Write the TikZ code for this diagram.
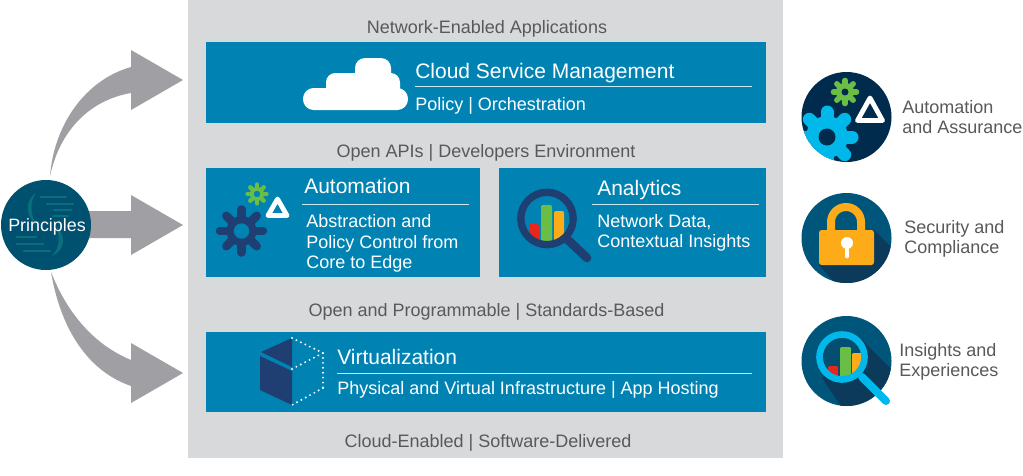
\documentclass[tikz,border=0pt]{standalone}
\usepackage{fontspec}
\setmainfont{Liberation Sans}
\definecolor{panel}{HTML}{D8D9DA}
\definecolor{boxblue}{HTML}{0083B3}
\definecolor{arrowgray}{HTML}{A0A0A4}
\definecolor{labelgray}{HTML}{58595B}
\definecolor{tealdark}{HTML}{00506F}
\definecolor{tealline}{HTML}{0B6E7C}
\definecolor{navy}{HTML}{1F3F73}
\definecolor{deepnavy}{HTML}{002B4C}
\definecolor{midteal}{HTML}{00567A}
\definecolor{shadowtone}{HTML}{0C3A5B}
\definecolor{sky}{HTML}{00B8EA}
\definecolor{leaf}{HTML}{6ABD45}
\definecolor{amber}{HTML}{FDAB18}
\definecolor{barred}{HTML}{E8261C}
\newcommand{\fs}[1]{\fontsize{#1}{#1}\selectfont}
\newcommand{\gearicon}[8]{% x y spokeR spokeW hubR holeR colour holecolour
  \begin{scope}[shift={(#1,#2)}]
    \foreach \a in {0,45,...,315}
      \draw[#7,line width=#4*0.75pt,line cap=round] (0,0) -- (\a:#3);
    \fill[#7] (0,0) circle (#5);
    \fill[#8] (0,0) circle (#6);
  \end{scope}}
\tikzset{
  x=0.75pt,y=-0.75pt,
  head/.style={anchor=base west,text=white,inner sep=0pt,font=\fs{15.75pt}},
  body/.style={anchor=base west,text=white,inner sep=0pt,font=\fs{13.5pt}},
  band/.style={anchor=base,text=labelgray,inner sep=0pt,font=\fs{13.5pt}},
  side/.style={anchor=base west,text=labelgray,inner sep=0pt,font=\fs{13.5pt}},
  rule/.style={draw=white!80!boxblue,line width=0.75pt},
  bigarrow/.style={fill=arrowgray,draw=none},
  cell/.style={fill=boxblue,draw=none},
  dots/.style={draw=white,line width=1.6pt,line cap=round,dash pattern=on 0pt off 3.7pt},
}
\begin{document}
\begin{tikzpicture}
\useasboundingbox (0,0) rectangle (1023,475);
\fill[white] (0,0) rectangle (1023,475);
% panel and cells
\fill[panel] (188,0) rectangle (783,458);
\fill[cell] (206,42) rectangle (766,123);
\fill[cell] (206,168) rectangle (480,277);
\fill[cell] (499,168) rectangle (766,277);
\fill[cell] (206,332) rectangle (766,412);
% band labels
\node[band] (lnet) at (487,33) {Network-Enabled Applications};
\node[band] (lapi) at (486,157) {Open APIs | Developers Environment};
\node[band] (lopen) at (486.5,316) {Open and Programmable | Standards-Based};
\node[band] (lcloud) at (488,447) {Cloud-Enabled | Software-Delivered};
% arrows
\fill[bigarrow] (50,176) .. controls (54,125) and (85,80) .. (131,67) -- (131,50) -- (183,80) -- (131,110) -- (131,93) .. controls (90,100) and (60,130) .. (50,176) -- cycle;
\fill[bigarrow] (85,211) -- (131,211) -- (131,195) -- (183,225) -- (131,255) -- (131,238) -- (85,238) -- cycle;
\fill[bigarrow] (51,272) .. controls (68,315) and (95,345) .. (131,360) -- (131,343) -- (183,373) -- (131,403) -- (131,386) .. controls (85,370) and (60,325) .. (51,272) -- cycle;
% principles
\fill[tealdark] (46,225) circle (45);
\begin{scope}
  \foreach \xa/\xb/\yy in {41/66/197,47/73/204,54/71/210,53/68/216,17/36/237,17/43/244,24/50/251}
    \draw[tealline,line width=1.9pt,line cap=round] (\xa,\yy) -- (\xb,\yy);
  \fill[tealline] (36,193) .. controls (25,200) and (25,215) .. (36,225) .. controls (31,215) and (29,203) .. (36,193) -- cycle;
  \fill[tealline] (52,256) .. controls (66,250) and (66,235) .. (56,226) .. controls (60,236) and (60,248) .. (52,256) -- cycle;
\end{scope}
\node[anchor=base,text=white,inner sep=0pt,font=\fs{13.4pt}] (princ) at (47,231) {Principles};
% cloud
\fill[white,rounded corners=8pt] (303,88) rectangle (408,110);
\fill[white,rounded corners=7pt] (326,73) rectangle (400,100);
\fill[white,rounded corners=7.5pt] (355,58) rectangle (391,85);
% top cell
\node[head] (tcloud) at (415,78) {Cloud Service Management};
\draw[rule] (415,86) -- (752,86);
\node[body] (tpol) at (415,110) {Policy | Orchestration};
% automation cell
\gearicon{241.5}{231}{21.5}{8.5}{15}{7.7}{navy}{boxblue}
\gearicon{257}{194}{9.5}{4.4}{7}{3.2}{leaf}{boxblue}
\draw[white,line width=3.6pt,line join=round] (277.5,199) -- (268,215.5) -- (287,215.5) -- cycle;
\node[head] (tauto) at (304,193) {Automation};
\draw[rule] (302,204) -- (469,204);
\node[body] (ta1) at (306,227) {Abstraction and};
\node[body] (ta2) at (306,248) {Policy Control from};
\node[body] (ta3) at (306,268) {Core to Edge};
% analytics cell
\begin{scope}
  \clip (547,218.5) circle (24);
  \fill[barred,rounded corners=1] (529,224) rectangle (539,245);
  \fill[leaf,rounded corners=1] (541,205) rectangle (552,241);
  \fill[amber,rounded corners=1] (554,211) rectangle (564,245);
\end{scope}
\draw[navy,line width=5.5pt] (547,218.5) circle (26.2);
\draw[navy,line width=6.5pt,line cap=round] (567,239) -- (587,258);
\node[head] (tana) at (597,195) {Analytics};
\draw[rule] (592,204) -- (759,204);
\node[body] (tn1) at (597,227) {Network Data,};
\node[body] (tn2) at (597,247) {Contextual Insights};
% cube
\fill[navy] (260,356) -- (292,371) -- (292,405) -- (260,390) -- cycle;
\fill[navy] (292,338) -- (292,367) -- (261,352) -- cycle;
\draw[dots] (292,338) -- (323,353);
\draw[dots] (292,369) -- (323,353);
\draw[dots] (323,353) -- (323,388);
\draw[dots] (323,388) -- (292,405);
\node[head] (tvirt) at (337,364) {Virtualization};
\draw[rule] (337,373) -- (752,373);
\node[body] (tphys) at (337,394) {Physical and Virtual Infrastructure | App Hosting};
% right icon 1
\fill[deepnavy] (846.5,117) circle (45);
\begin{scope}
  \clip (846.5,117) circle (45);
  \gearicon{827}{137}{25}{13}{21}{8.5}{sky}{deepnavy}
\end{scope}
\gearicon{845}{92}{11.5}{5.6}{9}{3.5}{leaf}{deepnavy}
\draw[white,line width=3.6pt,line join=round] (870,98) -- (857.5,120.5) -- (882.5,120.5) -- cycle;
\node[side] (r1a) at (902,113) {Automation};
\node[side] (r1b) at (902,133) {and Assurance};
% right icon 2
\fill[midteal] (846.5,238) circle (45);
\begin{scope}
  \clip (846.5,238) circle (45);
  \fill[shadowtone] (874,230) -- (900,256) -- (900,300) -- (850,300) -- (819,265) -- cycle;
\end{scope}
\draw[amber,line width=6pt] (831,232) -- (831,222) arc (180:360:15) -- (861,232);
\fill[amber,rounded corners=2] (819,230) rectangle (874,265);
\fill[white] (847,243) circle (6);
\draw[white,line width=3.6pt,line cap=round] (847,243) -- (847,256);
\node[side] (r2a) at (904,233) {Security and};
\node[side] (r2b) at (904,253) {Compliance};
% right icon 3
\fill[midteal] (846.5,361) circle (45);
\begin{scope}
  \clip (846.5,361) circle (45);
  \fill[shadowtone] (860,338) -- (900,378) -- (900,420) -- (850,420) -- (822,378) -- cycle;
\end{scope}
\fill[midteal!70!shadowtone] (842,357) circle (23);
\begin{scope}
  \clip (842,357) circle (22);
  \fill[barred,rounded corners=1] (828,366) rectangle (838,385);
  \fill[leaf,rounded corners=1] (840,347) rectangle (851,385);
  \fill[amber,rounded corners=1] (852,353) rectangle (863,385);
\end{scope}
\draw[sky,line width=5pt] (842,357) circle (22.5);
\draw[sky,line width=6pt,line cap=round] (862,377) -- (886,401);
\node[side] (r3a) at (899,356) {Insights and};
\node[side] (r3b) at (899,376) {Experiences};
\end{tikzpicture}
\end{document}
